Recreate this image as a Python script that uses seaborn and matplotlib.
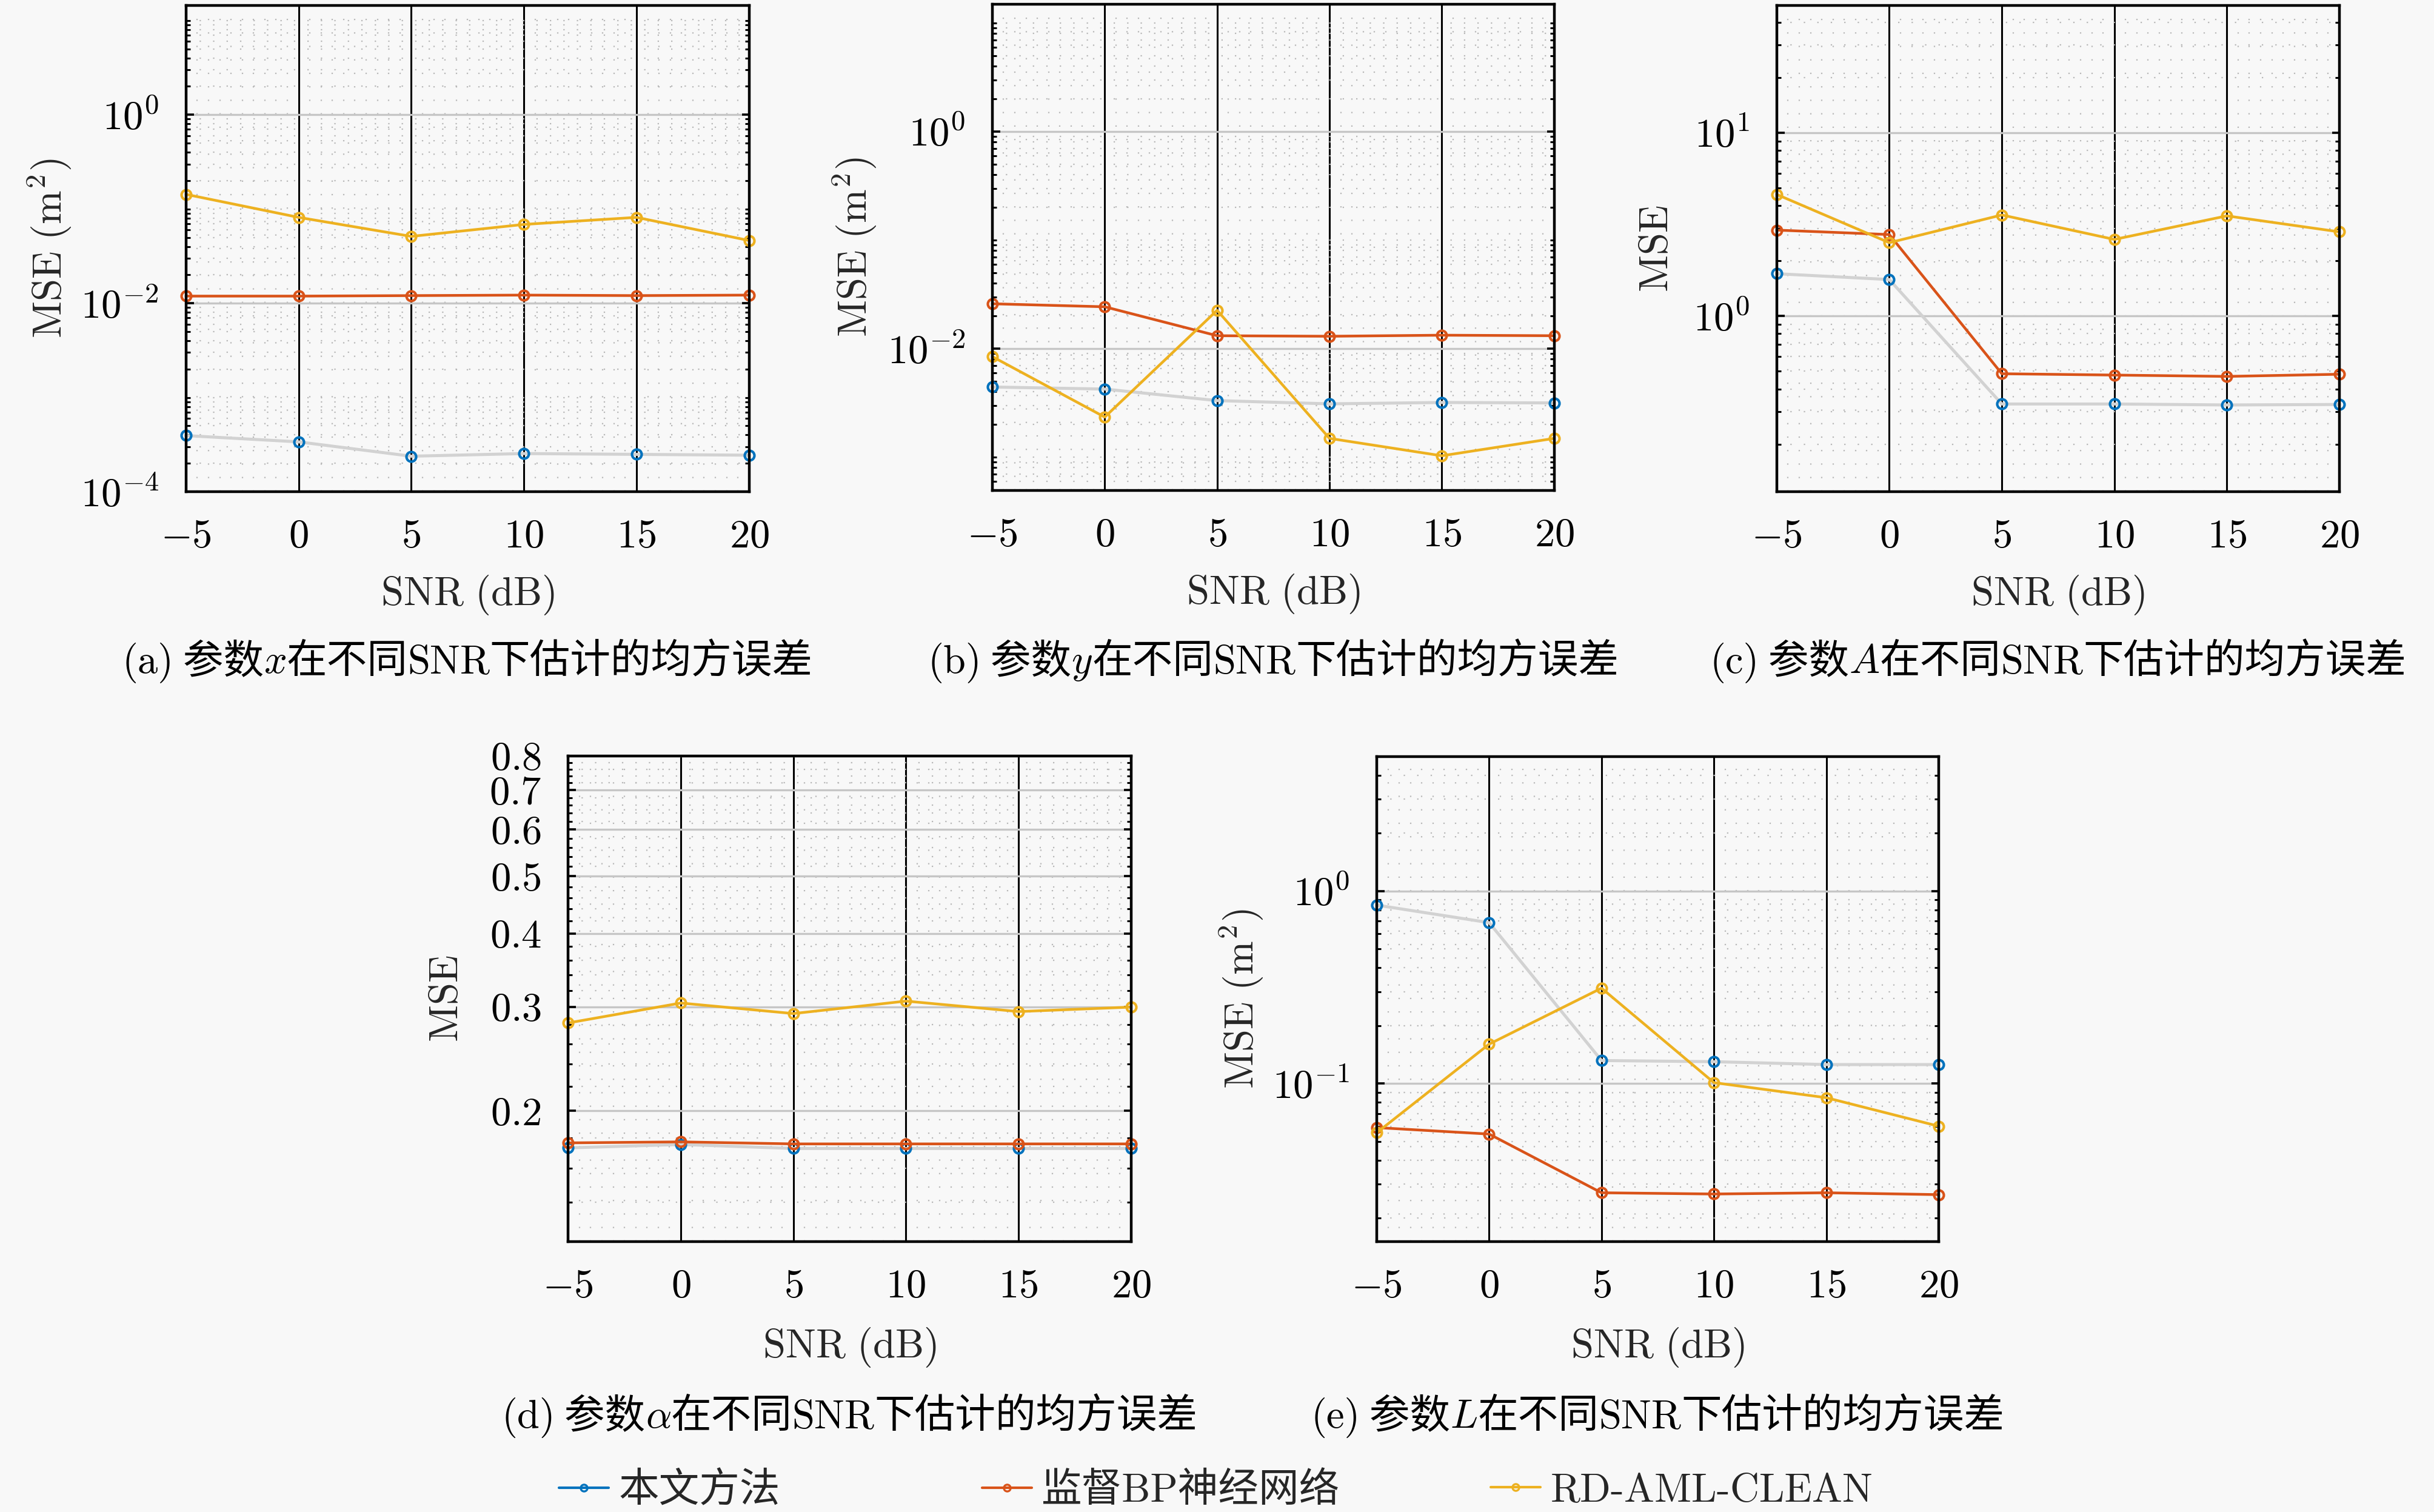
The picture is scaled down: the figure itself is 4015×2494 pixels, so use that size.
import numpy as np
import matplotlib
matplotlib.use("Agg")
import matplotlib.pyplot as plt
import seaborn as sns
from matplotlib.ticker import FixedLocator, FuncFormatter, NullFormatter
from matplotlib.lines import Line2D
from matplotlib.font_manager import FontProperties

# ---------------- data ----------------
snr = [-5, 0, 5, 10, 15, 20]
series_names = ["本文方法", "监督BP神经网络", "RD-AML-CLEAN"]

mse_x_ours = [3.94e-4, 3.38e-4, 2.38e-4, 2.54e-4, 2.49e-4, 2.44e-4]
mse_x_bp = [0.0119, 0.0119, 0.01205, 0.0122, 0.01205, 0.0122]
mse_x_rd = [0.143, 0.0815, 0.0512, 0.0686, 0.0815, 0.0463]

mse_y_ours = [0.00443, 0.00424, 0.00332, 0.00310, 0.00319, 0.00316]
mse_y_bp = [0.0259, 0.0243, 0.01315, 0.0130, 0.0133, 0.01315]
mse_y_rd = [0.00844, 0.00234, 0.02254, 0.00149, 0.00103, 0.00149]

mse_A_ours = [1.70, 1.58, 0.331, 0.331, 0.327, 0.329]
mse_A_bp = [2.94, 2.78, 0.484, 0.476, 0.468, 0.481]
mse_A_rd = [4.60, 2.51, 3.555, 2.615, 3.515, 2.876]

mse_alpha_ours = [0.1731, 0.1754, 0.1727, 0.1727, 0.1727, 0.1727]
mse_alpha_bp = [0.1765, 0.1772, 0.1758, 0.1758, 0.1758, 0.1758]
mse_alpha_rd = [0.282, 0.3048, 0.2925, 0.3071, 0.2948, 0.300]

mse_L_ours = [0.846, 0.686, 0.1318, 0.130, 0.1256, 0.1256]
mse_L_bp = [0.0591, 0.0547, 0.0271, 0.0267, 0.0271, 0.0265]
mse_L_rd = [0.0556, 0.1604, 0.3133, 0.1012, 0.0845, 0.0601]

captions = [
    ["(a)", " 参数", "$x$", "在不同", "SNR", "下估计的均方误差"],
    ["(b)", " 参数", "$y$", "在不同", "SNR", "下估计的均方误差"],
    ["(c)", " 参数", "$A$", "在不同", "SNR", "下估计的均方误差"],
    ["(d)", " 参数", r"$\alpha$", "在不同", "SNR", "下估计的均方误差"],
    ["(e)", " 参数", "$L$", "在不同", "SNR", "下估计的均方误差"],
]

# ---------------- style ----------------
BG = "#f8f8f8"
C_OURS = "#0072BD"
C_BP = "#D95319"
C_RD = "#EDB120"
GRAY_LINE = "#d2d2d2"
FS = 48
CJK = "Noto Sans CJK SC"
LAT = "cmr10"

sns.set_theme(style="white")
plt.rcParams.update({
    "font.family": [LAT, CJK],
    "mathtext.fontset": "cm",
    "axes.unicode_minus": False,
    "axes.formatter.use_mathtext": True,
    "figure.facecolor": BG,
    "axes.facecolor": BG,
    "savefig.facecolor": BG,
    "axes.edgecolor": "black",
})

W, H, DPI = 4016, 2494, 100
fig = plt.figure(figsize=(W / DPI, H / DPI), dpi=DPI)

rects = [
    [0.0764, 0.6748, 0.2313, 0.3216],
    [0.4076, 0.6756, 0.2308, 0.3216],
    [0.7298, 0.6748, 0.2311, 0.3216],
    [0.2334, 0.1788, 0.2312, 0.3212],
    [0.5655, 0.1788, 0.2308, 0.3208],
]


def log_minors(lo, hi, majors):
    out = []
    for n in range(int(np.floor(np.log10(lo))) - 1, int(np.ceil(np.log10(hi))) + 1):
        for k in range(1, 10):
            v = k * 10.0 ** n
            if lo <= v <= hi and not any(abs(v - m) / m < 1e-6 for m in majors):
                out.append(v)
    return out


def pow_fmt(v, pos):
    return r"$10^{%d}$" % int(round(np.log10(v)))


def dec_fmt(v, pos):
    return r"$%.1f$" % v


def panel(ax, ours, bp, rd, ylim, majors, minors, fmt, ylabel, ylab_x, xlab_y):
    sns.lineplot(x=snr, y=ours, ax=ax, color=GRAY_LINE, lw=3.6, marker="o", ms=11.5,
                 mfc="none", mec=C_OURS, mew=3.0, legend=False)
    sns.lineplot(x=snr, y=bp, ax=ax, color=C_BP, lw=3.2, marker="o", ms=11.5,
                 mfc="none", mec=C_BP, mew=3.0, legend=False)
    sns.lineplot(x=snr, y=rd, ax=ax, color=C_RD, lw=3.2, marker="o", ms=11.5,
                 mfc="none", mec=C_RD, mew=3.0, legend=False)
    for ln in ax.lines:
        ln.set_clip_on(False)
        ln.set_zorder(3)
    ax.set_yscale("log")
    ax.set_xlim(-5, 20)
    ax.set_ylim(*ylim)
    ax.xaxis.set_major_locator(FixedLocator(snr))
    ax.xaxis.set_minor_locator(FixedLocator(list(np.arange(-5, 20.01, 0.5))))
    ax.xaxis.set_major_formatter(FuncFormatter(lambda v, p: r"$%d$" % v))
    ax.yaxis.set_major_locator(FixedLocator(majors))
    ax.yaxis.set_minor_locator(FixedLocator(minors))
    ax.yaxis.set_major_formatter(FuncFormatter(fmt))
    ax.yaxis.set_minor_formatter(NullFormatter())
    ax.set_axisbelow(True)
    ax.grid(which="minor", color="#b8b8b8", lw=1.6, ls=(0, (1, 9)))
    ax.grid(which="major", axis="y", color="#c6c6c6", lw=2.4, ls="-")
    ax.grid(which="major", axis="x", color="black", lw=2.2, ls="-")
    for sp in ax.spines.values():
        sp.set_visible(True)
        sp.set_linewidth(3.2)
        sp.set_color("black")
        sp.set_zorder(4)
    ax.tick_params(axis="y", which="both", direction="in", left=True, right=True,
                   colors="black", labelsize=FS, pad=32)
    ax.tick_params(axis="y", which="major", length=9, width=2.6)
    ax.tick_params(axis="y", which="minor", length=5, width=2.2)
    ax.tick_params(axis="x", which="both", length=0, labelsize=FS, pad=33, colors="black")
    ax.set_xlabel(r"$\mathrm{SNR\ (dB)}$", fontsize=FS)
    ax.set_ylabel(ylabel, fontsize=FS)
    ax.xaxis.set_label_coords(0.5, xlab_y)
    ax.xaxis.label.set_va("center")
    ax.yaxis.set_label_coords(ylab_x, 0.5)
    ax.yaxis.label.set_va("center")


axes = [fig.add_axes(r) for r in rects]
lab_m2 = r"$\mathrm{MSE\ (m^2)}$"
lab_mse = r"$\mathrm{MSE}$"

ylim_a = (1e-4, 10 ** 1.16)
panel(axes[0], mse_x_ours, mse_x_bp, mse_x_rd, ylim_a, [1e-4, 1e-2, 1e0],
      log_minors(*ylim_a, [1e-4, 1e-2, 1e0]), pow_fmt, lab_m2, -0.242, -0.213)
ylim_b = (10 ** -3.307, 10 ** 1.173)
panel(axes[1], mse_y_ours, mse_y_bp, mse_y_rd, ylim_b, [1e-2, 1e0],
      log_minors(*ylim_b, [1e-2, 1e0]), pow_fmt, lab_m2, -0.245, -0.213)
ylim_c = (0.11, 49.4)
panel(axes[2], mse_A_ours, mse_A_bp, mse_A_rd, ylim_c, [1e0, 1e1],
      log_minors(*ylim_c, [1e0, 1e1]), pow_fmt, lab_mse, -0.212, -0.213)
ylim_d = (0.12, 0.8)
maj_d = [0.2, 0.3, 0.4, 0.5, 0.6, 0.7, 0.8]
min_d = [v for v in np.arange(0.12, 0.801, 0.02) if not any(abs(v - m) < 1e-6 for m in maj_d)]
panel(axes[3], mse_alpha_ours, mse_alpha_bp, mse_alpha_rd, ylim_d, maj_d, min_d,
      dec_fmt, lab_mse, -0.214, -0.218)
ylim_e = (0.0151, 5.0)
panel(axes[4], mse_L_ours, mse_L_bp, mse_L_rd, ylim_e, [1e-1, 1e0],
      log_minors(*ylim_e, [1e-1, 1e0]), pow_fmt, lab_m2, -0.241, -0.218)

# ---------------- captions ----------------
renderer = fig.canvas.get_renderer()


def piece_family(s):
    if s.startswith("$"):
        return LAT
    if any(ord(c) > 127 for c in s):
        return CJK
    return LAT


cap_base = [0.5549, 0.5549, 0.5549, 0.0557, 0.0557]
for ax, pieces, yb in zip(axes, captions, cap_base):
    pos = ax.get_position()
    xc = (pos.x0 + pos.x1) / 2 * W
    texts = [fig.text(0, yb, s, ha="left", va="baseline", fontsize=FS,
                      family=piece_family(s), color="black") for s in pieces]
    widths = [t.get_window_extent(renderer).width for t in texts]
    x = xc - sum(widths) / 2
    for t, w in zip(texts, widths):
        t.set_x(x / W)
        x += w

# ---------------- legend (one entry per column, like the reference) ----------------
series_colors = [C_OURS, C_BP, C_RD]
legend_left = [0.2296, 0.4033, 0.6123]
for name, col, xl in zip(series_names, series_colors, legend_left):
    h = Line2D([], [], color=col, lw=3.0, marker="o", ms=8, mfc="none", mec=col, mew=2.4)
    fig.legend([h], [name], loc="center left", bbox_to_anchor=(xl, 0.0140),
               frameon=False, prop=FontProperties(family=[LAT, CJK], size=FS),
               handlelength=1.23, handletextpad=0.25, borderpad=0, borderaxespad=0)

fig.savefig("out.png", dpi=DPI, facecolor=BG)
